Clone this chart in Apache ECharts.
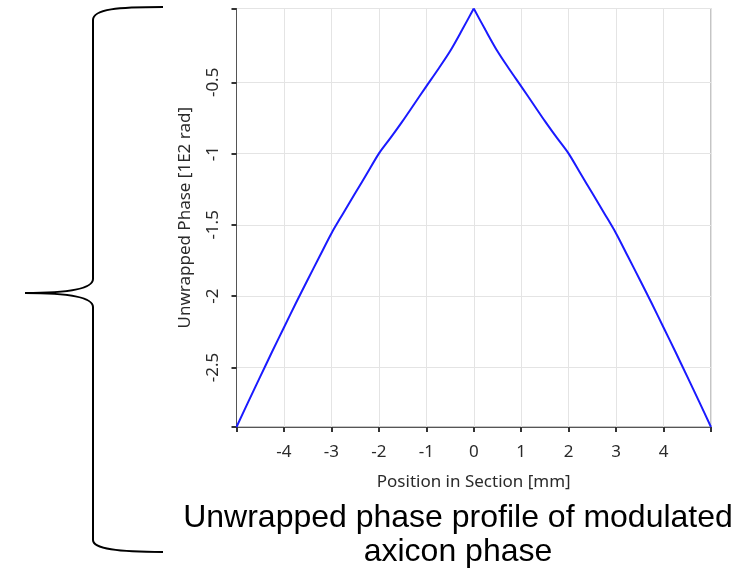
<!DOCTYPE html>
<html>
<head>
<meta charset="utf-8">
<script src="https://cdn.jsdelivr.net/npm/echarts@6/dist/echarts.min.js"></script>
<style>
  html, body { margin: 0; padding: 0; background: #ffffff; }
  #chart { width: 756px; height: 572px; }
</style>
</head>
<body>
<div id="chart"></div>
<script>
// Position in section [mm]
const positions = [
  -5.0, -4.75, -4.5, -4.25, -4.0, -3.75, -3.5, -3.25, -3.0, -2.75,
  -2.5, -2.25, -2.0, -1.75, -1.5, -1.25, -1.0, -0.75, -0.5, -0.25,
  0.0,
  0.25, 0.5, 0.75, 1.0, 1.25, 1.5, 1.75, 2.0, 2.25,
  2.5, 2.75, 3.0, 3.25, 3.5, 3.75, 4.0, 4.25, 4.5, 4.75, 5.0
];
// Unwrapped phase [1E2 rad]
const phase = [
  -2.918, -2.74, -2.565, -2.39, -2.22, -2.05, -1.885, -1.722, -1.56, -1.418,
  -1.278, -1.14, -1.0, -0.888, -0.772, -0.65, -0.528, -0.408, -0.282, -0.135,
  0.018,
  -0.135, -0.282, -0.408, -0.528, -0.65, -0.772, -0.888, -1.0, -1.14,
  -1.278, -1.418, -1.56, -1.722, -1.885, -2.05, -2.22, -2.39, -2.565, -2.74, -2.918
];
const xTickLabels = [-4, -3, -2, -1, 0, 1, 2, 3, 4];
const xTicks = [-5, -4, -3, -2, -1, 0, 1, 2, 3, 4, 5];
const yTickLabels = [-2.5, -2, -1.5, -1, -0.5];
const yTicks = [-2.918, -2.5, -2, -1.5, -1, -0.5, 0.018];
const xName = 'Position in Section [mm]';
const yName = 'Unwrapped Phase [1E2 rad]';
const caption = 'Unwrapped phase profile of modulated\naxicon phase';

const font = '"Noto Sans", "Open Sans", sans-serif';
const braceStyle = { stroke: '#000', lineWidth: 2, fill: null };

const points = positions.map((p, i) => [p, phase[i]]);
const leftHalf = points.filter(d => d[0] <= 0);
const rightHalf = points.filter(d => d[0] >= 0);

const lineSeries = (data) => ({
  type: 'line',
  data: data,
  showSymbol: false,
  smooth: 0.3,
  lineStyle: { color: '#1a1aff', width: 2 },
  z: 3
});

const chart = echarts.init(document.getElementById('chart'), null, { renderer: 'canvas' });
chart.setOption({
  animation: false,
  backgroundColor: '#ffffff',
  grid: {
    left: 236.5, top: 8.5, right: 45, bottom: 145,
    show: true, borderColor: '#8a8a8a', borderWidth: 1, containLabel: false
  },
  xAxis: {
    type: 'value', min: -5, max: 5,
    name: xName, nameLocation: 'middle', nameGap: 47,
    nameTextStyle: { fontFamily: font, fontSize: 17, color: '#2a2a2a' },
    axisLine: { show: true, onZero: false, lineStyle: { color: '#555', width: 1 } },
    axisTick: { show: true, inside: false, length: 5, customValues: xTicks, lineStyle: { color: '#333', width: 2 } },
    axisLabel: { customValues: xTickLabels, margin: 17, fontFamily: font, fontSize: 17, color: '#2a2a2a' },
    splitLine: { show: true, lineStyle: { color: '#e4e4e4', width: 1 } }
  },
  yAxis: {
    type: 'value', min: -2.918, max: 0.018,
    name: yName, nameLocation: 'middle', nameGap: 43,
    nameTextStyle: { fontFamily: font, fontSize: 17, color: '#2a2a2a' },
    axisLine: { show: true, onZero: false, lineStyle: { color: '#555', width: 1 } },
    axisTick: { show: true, inside: false, length: 5, customValues: yTicks, lineStyle: { color: '#333', width: 2 } },
    axisLabel: { customValues: yTickLabels, rotate: 90, margin: 15, fontFamily: font, fontSize: 17, color: '#2a2a2a' },
    splitLine: { show: true, lineStyle: { color: '#e4e4e4', width: 1 } }
  },
  series: [lineSeries(leftHalf), lineSeries(rightHalf)],
  graphic: [
    { type: 'bezierCurve', shape: { x1: 163, y1: 7, cpx1: 118, cpy1: 7, cpx2: 93, cpy2: 9, x2: 93, y2: 20 }, style: braceStyle },
    { type: 'line', shape: { x1: 93, y1: 20, x2: 93, y2: 279 }, style: braceStyle },
    { type: 'bezierCurve', shape: { x1: 93, y1: 279, cpx1: 93, cpy1: 288, cpx2: 72, cpy2: 293, x2: 25, y2: 293 }, style: braceStyle },
    { type: 'bezierCurve', shape: { x1: 25, y1: 293, cpx1: 72, cpy1: 293, cpx2: 93, cpy2: 298, x2: 93, y2: 307 }, style: braceStyle },
    { type: 'line', shape: { x1: 93, y1: 307, x2: 93, y2: 540 }, style: braceStyle },
    { type: 'bezierCurve', shape: { x1: 93, y1: 540, cpx1: 93, cpy1: 549, cpx2: 118, cpy2: 552, x2: 163, y2: 552 }, style: braceStyle },
    {
      type: 'text',
      x: 458, y: 501,
      style: {
        text: caption,
        textAlign: 'center',
        font: '32px "Liberation Sans", Arial, sans-serif',
        lineHeight: 34,
        fill: '#000'
      }
    }
  ]
});
</script>
</body>
</html>
